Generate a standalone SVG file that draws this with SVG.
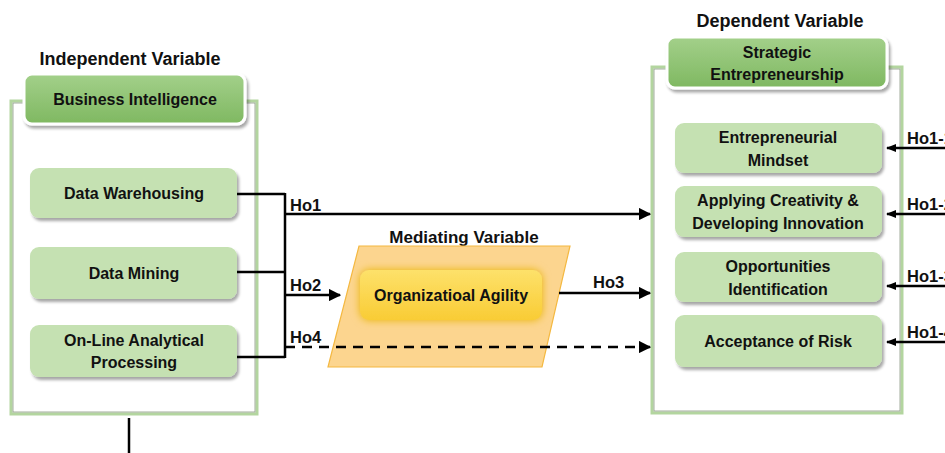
<svg xmlns="http://www.w3.org/2000/svg" width="945" height="453" viewBox="0 0 945 453">
  <defs>
    <filter id="shadow" x="-10%" y="-20%" width="125%" height="150%">
      <feGaussianBlur in="SourceAlpha" stdDeviation="1.5"/>
      <feOffset dx="2" dy="3" result="b"/>
      <feComponentTransfer><feFuncA type="linear" slope="0.35"/></feComponentTransfer>
      <feMerge><feMergeNode/><feMergeNode in="SourceGraphic"/></feMerge>
    </filter>
    <filter id="glow" x="-15%" y="-30%" width="130%" height="160%">
      <feFlood flood-color="#e8b400"/>
      <feComposite operator="in" in2="SourceAlpha"/>
      <feGaussianBlur stdDeviation="4"/>
      <feMerge><feMergeNode/><feMergeNode in="SourceGraphic"/></feMerge>
    </filter>
    <linearGradient id="hdr" x1="0" y1="0" x2="0" y2="1">
      <stop offset="0" stop-color="#a3d08a"/>
      <stop offset="1" stop-color="#7fb861"/>
    </linearGradient>
    <linearGradient id="gold" x1="0" y1="0" x2="0" y2="1">
      <stop offset="0" stop-color="#fde16a"/>
      <stop offset="1" stop-color="#f9cc35"/>
    </linearGradient>
    <marker id="arr" viewBox="0 0 10 10" refX="9" refY="5" markerWidth="5" markerHeight="5" orient="auto-start-reverse">
      <path d="M0,0 L10,5 L0,10 z" fill="#000"/>
    </marker>
    <marker id="arrs" viewBox="0 0 10 10" refX="9" refY="5" markerWidth="4" markerHeight="4" orient="auto-start-reverse">
      <path d="M0,1 L10,5 L0,9 z" fill="#000"/>
    </marker>
  </defs>
  <style>
    text { font-family: "Liberation Sans", Arial, sans-serif; font-weight: bold; fill: #111; }
    .title { font-size: 18px; text-anchor: middle; }
    .lbl { font-size: 16px; text-anchor: middle; }
    .hyp { font-size: 16.5px; }
    .frame { fill: #fff; stroke: #b3d59f; stroke-width: 3; }
    .frame-in { fill: none; stroke: #8c9a86; stroke-width: 0.8; }
    .hdr { fill: url(#hdr); stroke: #fff; stroke-width: 3; filter: url(#shadow); }
    .item { fill: #c5e1b2; filter: url(#shadow); }
    .line { fill: none; stroke: #000; stroke-width: 2.5; }
    .dash { fill: none; stroke: #000; stroke-width: 2.5; stroke-dasharray: 10 7; }
  </style>

  <!-- frames -->
  <g id="independent-frame">
    <rect class="frame" x="11" y="101" width="246" height="313"/>
    <rect class="frame-in" x="13" y="103" width="242" height="309"/>
  </g>
  <g id="dependent-frame">
    <rect class="frame" x="652" y="67" width="250" height="346"/>
    <rect class="frame-in" x="654" y="69" width="246" height="342"/>
  </g>

  <!-- section titles -->
  <text class="title" x="130" y="65">Independent Variable</text>
  <text class="title" x="464" y="243" style="font-size:17px">Mediating Variable</text>
  <text class="title" x="780" y="27">Dependent Variable</text>

  <!-- independent variable -->
  <g id="business-intelligence">
    <rect class="hdr" x="24" y="74" width="221" height="50" rx="8"/>
    <text class="lbl" x="135" y="105">Business Intelligence</text>
  </g>
  <g id="data-warehousing">
    <rect class="item" x="30" y="168" width="207" height="50" rx="9"/>
    <text class="lbl" x="134" y="199">Data Warehousing</text>
  </g>
  <g id="data-mining">
    <rect class="item" x="30" y="247" width="207" height="52" rx="9"/>
    <text class="lbl" x="134" y="279">Data Mining</text>
  </g>
  <g id="olap">
    <rect class="item" x="30" y="325" width="207" height="52" rx="9"/>
    <text class="lbl" x="134" y="346">On-Line Analytical</text>
    <text class="lbl" x="134" y="368">Processing</text>
  </g>

  <!-- mediating variable -->
  <g id="organizational-agility">
    <polygon points="359,246 570,246 542,367 328,367" fill="#fcd58f" stroke="#f4b840" stroke-width="1.2"/>
    <rect x="360" y="270" width="182" height="50" rx="9" fill="url(#gold)" filter="url(#glow)"/>
    <text class="lbl" x="451" y="301">Organizatioal Agility</text>
  </g>

  <!-- dependent variable -->
  <g id="strategic-entrepreneurship">
    <rect class="hdr" x="667" y="37" width="220" height="51" rx="8"/>
    <text class="lbl" x="777" y="58">Strategic</text>
    <text class="lbl" x="777" y="80">Entrepreneurship</text>
  </g>
  <g id="entrepreneurial-mindset">
    <rect class="item" x="675" y="123" width="207" height="50" rx="9"/>
    <text class="lbl" x="778" y="143">Entrepreneurial</text>
    <text class="lbl" x="778" y="166">Mindset</text>
  </g>
  <g id="creativity-innovation">
    <rect class="item" x="675" y="186" width="207" height="51" rx="9"/>
    <text class="lbl" x="778" y="206">Applying Creativity &amp;</text>
    <text class="lbl" x="778" y="229">Developing Innovation</text>
  </g>
  <g id="opportunities-identification">
    <rect class="item" x="675" y="252" width="207" height="50" rx="9"/>
    <text class="lbl" x="778" y="272">Opportunities</text>
    <text class="lbl" x="778" y="295">Identification</text>
  </g>
  <g id="acceptance-of-risk">
    <rect class="item" x="675" y="315" width="207" height="52" rx="9"/>
    <text class="lbl" x="778" y="347">Acceptance of Risk</text>
  </g>

  <!-- connectors -->
  <g id="connectors">
    <path class="line" d="M237,194 H285 M237,272 H285 M237,357 H285 M285,193 V358"/>
    <path class="line" d="M285,214 H650" marker-end="url(#arr)"/>
    <path class="line" d="M285,295 H340" marker-end="url(#arr)"/>
    <path class="dash" d="M285,347 H650" marker-end="url(#arr)"/>
    <path class="line" d="M559,293 H650" marker-end="url(#arr)"/>
    <path class="line" d="M950,148 H887" marker-end="url(#arrs)" stroke-width="2"/>
    <path class="line" d="M950,214 H887" marker-end="url(#arrs)" stroke-width="2"/>
    <path class="line" d="M950,286 H887" marker-end="url(#arrs)" stroke-width="2"/>
    <path class="line" d="M950,342 H887" marker-end="url(#arrs)" stroke-width="2"/>
    <path class="line" d="M129,418 V453"/>
  </g>

  <!-- hypothesis labels (the right-hand ones run off the edge) -->
  <g id="hypotheses">
    <text class="hyp" x="290" y="211">Ho1</text>
    <text class="hyp" x="290" y="291">Ho2</text>
    <text class="hyp" x="290" y="343">Ho4</text>
    <text class="hyp" x="593" y="288">Ho3</text>
    <text class="hyp" x="907" y="144">Ho1-1</text>
    <text class="hyp" x="907" y="210">Ho1-2</text>
    <text class="hyp" x="907" y="282">Ho1-3</text>
    <text class="hyp" x="907" y="338">Ho1-4</text>
  </g>
</svg>
